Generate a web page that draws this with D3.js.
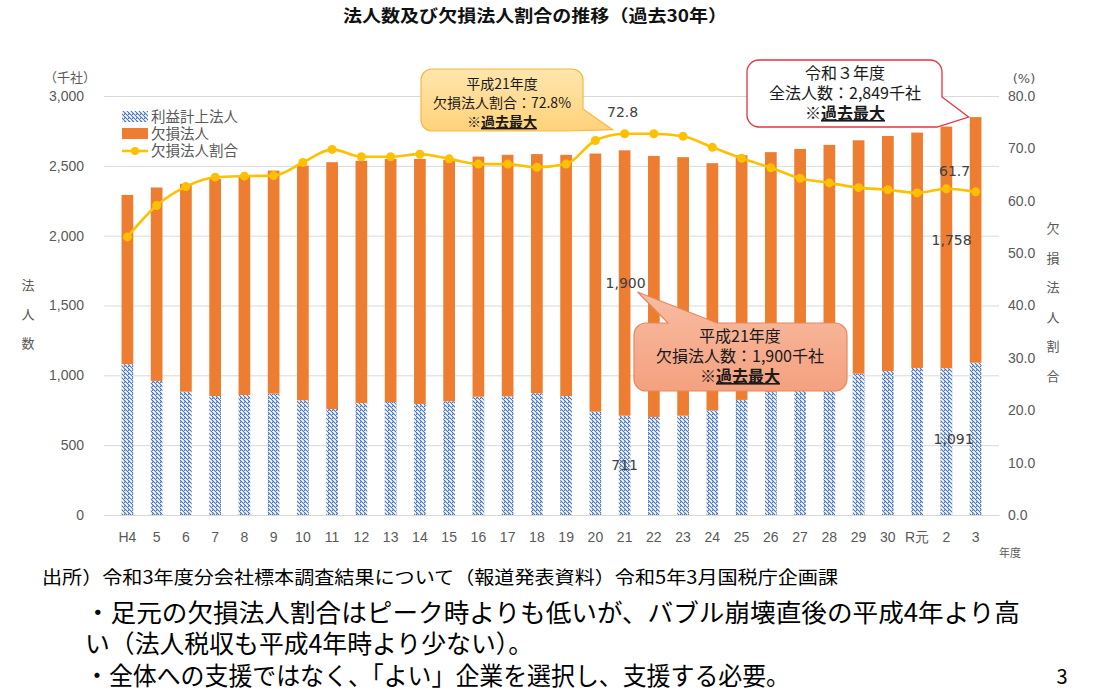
<!DOCTYPE html>
<html>
<head>
<meta charset="utf-8">
<script src="https://cdn.jsdelivr.net/npm/d3@7"></script>
<style>
  body { margin: 0; background: #fff; }
  svg { display: block; font-family: "DejaVu Sans", "Noto Sans CJK JP", sans-serif; }
  .jp { font-family: "Noto Sans CJK JP", sans-serif; }
</style>
</head>
<body>
<svg id="chart" width="1096" height="694"></svg>
<script>
// data (千社, %)
const categories = ['H4','5','6','7','8','9','10','11','12','13','14','15','16','17','18','19','20','21','22','23','24','25','26','27','28','29','30','R元','2','3'];
const profitCorp = [1080, 960, 883, 852, 859, 869, 822, 759, 802, 809, 795, 814, 847, 850, 872, 852, 740, 711, 702, 711, 750, 824, 883, 895, 895, 1012, 1031, 1053, 1051, 1091];
const lossCorp = [1212, 1385, 1488, 1555, 1564, 1597, 1680, 1767, 1734, 1741, 1755, 1729, 1719, 1729, 1712, 1727, 1848, 1900, 1869, 1851, 1769, 1752, 1715, 1726, 1755, 1671, 1683, 1685, 1730, 1758];
const lossRatio = [53.1, 59.1, 62.7, 64.5, 64.7, 64.8, 67.3, 69.8, 68.4, 68.4, 68.9, 68.0, 67.0, 67.0, 66.4, 67.0, 71.5, 72.8, 72.8, 72.3, 70.2, 68.1, 66.3, 64.3, 63.4, 62.5, 62.1, 61.5, 62.3, 61.7];
const leftTicks = [0, 500, 1000, 1500, 2000, 2500, 3000];
const rightTicks = [0, 10, 20, 30, 40, 50, 60, 70, 80];

const svg = d3.select('#chart');
const plotL = 104, plotR = 999, plotT = 96, plotB = 515;

const x = d3.scaleBand().domain(categories).range([plotL, plotR]).padding(0.6);
const y = d3.scaleLinear().domain([0, 3000]).range([plotB, plotT]);
const y2 = d3.scaleLinear().domain([0, 80]).range([plotB, plotT]);
const cx = i => x(categories[i]) + x.bandwidth() / 2;

const defs = svg.append('defs');
defs.append('pattern')
    .attr('id', 'hatch')
    .attr('patternUnits', 'userSpaceOnUse')
    .attr('width', 4).attr('height', 4)
    .call(p => {
        p.append('rect').attr('width', 4).attr('height', 4).attr('fill', '#fff');
        p.append('path').attr('d', 'M-1,1 l2,2 M0,0 l4,4 M3,-1 l2,2')
            .attr('stroke', '#4472C4').attr('stroke-width', 1.1);
    });
const gy = defs.append('linearGradient').attr('id', 'gYellow').attr('x1', 0).attr('y1', 0).attr('x2', 0).attr('y2', 1);
gy.append('stop').attr('offset', '0%').attr('stop-color', '#FFE6AE');
gy.append('stop').attr('offset', '100%').attr('stop-color', '#FFD27A');
const gs = defs.append('linearGradient').attr('id', 'gSalmon').attr('x1', 0).attr('y1', 0).attr('x2', 0).attr('y2', 1);
gs.append('stop').attr('offset', '0%').attr('stop-color', '#F8BCA2');
gs.append('stop').attr('offset', '100%').attr('stop-color', '#F4A17F');

// title
svg.append('text')
    .attr('class', 'jp')
    .attr('x', 535).attr('y', 22)
    .attr('text-anchor', 'middle')
    .attr('font-size', 17).attr('font-weight', 'bold').attr('fill', '#111')
    .attr('textLength', 384).attr('lengthAdjust', 'spacingAndGlyphs')
    .text('法人数及び欠損法人割合の推移（過去30年）');

// gridlines + left axis
const axL = svg.append('g')
    .attr('transform', `translate(${plotL},0)`)
    .call(d3.axisLeft(y).tickValues(leftTicks).tickSize(-(plotR - plotL)).tickPadding(20).tickFormat(d3.format(',')));
axL.select('.domain').remove();
axL.selectAll('line').attr('stroke', '#D9D9D9');
axL.selectAll('text').attr('font-size', 14).attr('fill', '#595959');

const axR = svg.append('g')
    .attr('transform', `translate(${plotR},0)`)
    .call(d3.axisRight(y2).tickValues(rightTicks).tickSize(0).tickPadding(9).tickFormat(d3.format('.1f')));
axR.select('.domain').remove();
axR.selectAll('text').attr('font-size', 14).attr('fill', '#595959');

const axB = svg.append('g')
    .attr('transform', `translate(0,${plotB})`)
    .call(d3.axisBottom(x).tickSize(0).tickPadding(17));
axB.select('.domain').attr('stroke', '#D9D9D9');
axB.selectAll('text').attr('font-size', 14).attr('fill', '#595959');

// bars
svg.append('g').selectAll('rect')
    .data(profitCorp)
    .join('rect')
    .attr('x', (d, i) => x(categories[i]))
    .attr('width', x.bandwidth())
    .attr('y', d => y(d))
    .attr('height', d => plotB - y(d))
    .attr('fill', 'url(#hatch)');

svg.append('g').selectAll('rect')
    .data(lossCorp)
    .join('rect')
    .attr('x', (d, i) => x(categories[i]))
    .attr('width', x.bandwidth())
    .attr('y', (d, i) => y(d + profitCorp[i]))
    .attr('height', (d, i) => y(profitCorp[i]) - y(d + profitCorp[i]))
    .attr('fill', '#ED7D31');

// ratio line
const line = d3.line().x((d, i) => cx(i)).y(d => y2(d)).curve(d3.curveMonotoneX);
svg.append('path')
    .attr('d', line(lossRatio))
    .attr('fill', 'none').attr('stroke', '#FFC000').attr('stroke-width', 2.6);
svg.append('g').selectAll('circle')
    .data(lossRatio)
    .join('circle')
    .attr('cx', (d, i) => cx(i)).attr('cy', d => y2(d))
    .attr('r', 4.5).attr('fill', '#FFC000');

// data labels
const last = categories.length - 1, peak = 17;
const labels = [
    [cx(peak) - 2, y2(lossRatio[peak]) - 17, lossRatio[peak].toFixed(1)],
    [cx(last) - 21, y2(lossRatio[last]) - 16, lossRatio[last].toFixed(1)],
    [cx(last) - 24, y(profitCorp[last] + lossCorp[last] / 2) + 5, d3.format(',')(lossCorp[last])],
    [cx(last) - 22, y(profitCorp[last] / 2) + 5, d3.format(',')(profitCorp[last])],
    [cx(peak) + 1, y(profitCorp[peak] + lossCorp[peak] / 2) + 5, d3.format(',')(lossCorp[peak])],
    [cx(peak), y(profitCorp[peak] / 2) + 5, d3.format(',')(profitCorp[peak])]
];
svg.append('g').selectAll('text')
    .data(labels)
    .join('text')
    .attr('x', d => d[0]).attr('y', d => d[1])
    .attr('text-anchor', 'middle')
    .attr('font-size', 14).attr('fill', '#404040')
    .text(d => d[2]);

// axis titles
svg.append('text').attr('class', 'jp').attr('x', 70).attr('y', 82).attr('text-anchor', 'middle')
    .attr('font-size', 13).attr('fill', '#595959').text('（千社）');
svg.append('text').attr('x', 1024).attr('y', 83).attr('text-anchor', 'middle')
    .attr('font-size', 13).attr('fill', '#595959').text('(%)');
svg.append('g').selectAll('text')
    .data(['法', '人', '数'])
    .join('text').attr('class', 'jp')
    .attr('x', 28).attr('y', (d, i) => 290 + i * 29)
    .attr('text-anchor', 'middle').attr('font-size', 13).attr('fill', '#595959')
    .text(d => d);
svg.append('g').selectAll('text')
    .data(['欠', '損', '法', '人', '割', '合'])
    .join('text').attr('class', 'jp')
    .attr('x', 1053).attr('y', (d, i) => 233 + i * 29.5)
    .attr('text-anchor', 'middle').attr('font-size', 13).attr('fill', '#595959')
    .text(d => d);
svg.append('text').attr('class', 'jp').attr('x', 1010).attr('y', 557).attr('text-anchor', 'middle')
    .attr('font-size', 11).attr('fill', '#595959').text('年度');

// legend
const lg = svg.append('g').attr('class', 'jp');
lg.append('rect').attr('x', 122).attr('y', 111).attr('width', 26).attr('height', 11).attr('fill', 'url(#hatch)');
lg.append('rect').attr('x', 122).attr('y', 128).attr('width', 26).attr('height', 11).attr('fill', '#ED7D31');
lg.append('line').attr('x1', 122).attr('x2', 148).attr('y1', 151).attr('y2', 151).attr('stroke', '#FFC000').attr('stroke-width', 2.6);
lg.append('circle').attr('cx', 135).attr('cy', 151).attr('r', 4).attr('fill', '#FFC000');
lg.selectAll('text')
    .data(['利益計上法人', '欠損法人', '欠損法人割合'])
    .join('text')
    .attr('x', 151).attr('y', (d, i) => 122 + i * 17)
    .attr('font-size', 14.5).attr('fill', '#595959')
    .text(d => d);

// callouts
function bubble(bx, by, w, h, r, tail) {
    const p = d3.path();
    p.moveTo(bx + r, by);
    if (tail.side === 'top') {
        p.lineTo(tail.a, by);
        p.lineTo(tail.tip[0], tail.tip[1]);
        p.lineTo(tail.b, by);
    }
    p.lineTo(bx + w - r, by);
    p.arcTo(bx + w, by, bx + w, by + r, r);
    if (tail.side === 'br') {
        p.lineTo(bx + w, tail.a);
        p.lineTo(tail.tip[0], tail.tip[1]);
        p.lineTo(tail.b, by + h);
    } else {
        p.lineTo(bx + w, by + h - r);
        p.arcTo(bx + w, by + h, bx + w - r, by + h, r);
    }
    p.lineTo(bx + r, by + h);
    p.arcTo(bx, by + h, bx, by + h - r, r);
    p.lineTo(bx, by + r);
    p.arcTo(bx, by, bx + r, by, r);
    p.closePath();
    return p.toString();
}

function calloutText(g, cxm, ys, lines, size) {
    const t = g.append('g').attr('class', 'jp').attr('text-anchor', 'middle')
        .attr('font-size', size).attr('fill', '#1a1a1a');
    t.append('text').attr('x', cxm).attr('y', ys[0]).text(lines[0]);
    t.append('text').attr('x', cxm).attr('y', ys[1]).text(lines[1]);
    const t3 = t.append('text').attr('x', cxm).attr('y', ys[2]);
    t3.append('tspan').text('※');
    t3.append('tspan').attr('font-weight', 'bold').attr('text-decoration', 'underline').text('過去最大');
}

const c1 = svg.append('g');
c1.append('path')
    .attr('d', bubble(421, 69, 162, 62, 11, { side: 'br', a: 109, b: 566, tip: [cx(peak) - 12, y2(lossRatio[peak]) - 4] }))
    .attr('fill', 'url(#gYellow)').attr('stroke', '#F5B940').attr('stroke-width', 1.2);
calloutText(c1, 502, [89, 108, 127], ['平成21年度', '欠損法人割合：72.8%'], 14);

const c2 = svg.append('g');
c2.append('path')
    .attr('d', bubble(747, 60, 195, 67, 12, { side: 'br', a: 97, b: 937, tip: [cx(last) - 7, y(profitCorp[last] + lossCorp[last])] }))
    .attr('fill', '#fff').attr('stroke', '#E3343F').attr('stroke-width', 1.3);
calloutText(c2, 845, [79, 99, 119], ['令和３年度', '全法人数：2,849千社'], 16);

const c3 = svg.append('g');
c3.append('path')
    .attr('d', bubble(634, 323, 213, 68, 12, { side: 'top', a: 668, b: 717, tip: [cx(peak) + 13, y(profitCorp[peak] + lossCorp[peak] / 2) + 9] }))
    .attr('fill', 'url(#gSalmon)').attr('stroke', '#E8875D').attr('stroke-width', 1.2);
calloutText(c3, 740, [342, 362, 382], ['平成21年度', '欠損法人数：1,900千社'], 16);

// source and notes
const notes = svg.append('g').attr('class', 'jp').attr('fill', '#000');
notes.append('text').attr('x', 42).attr('y', 584).attr('font-size', 18)
    .attr('textLength', 796).attr('lengthAdjust', 'spacingAndGlyphs')
    .text('出所）令和3年度分会社標本調査結果について（報道発表資料）令和5年3月国税庁企画課');
notes.append('text').attr('x', 85).attr('y', 622).attr('font-size', 25)
    .attr('textLength', 935).attr('lengthAdjust', 'spacingAndGlyphs')
    .text('・足元の欠損法人割合はピーク時よりも低いが、バブル崩壊直後の平成4年より高');
notes.append('text').attr('x', 85).attr('y', 653).attr('font-size', 25)
    .attr('textLength', 448).attr('lengthAdjust', 'spacingAndGlyphs')
    .text('い（法人税収も平成4年時より少ない）。');
notes.append('text').attr('x', 85).attr('y', 685).attr('font-size', 25)
    .attr('textLength', 705).attr('lengthAdjust', 'spacingAndGlyphs')
    .text('・全体への支援ではなく、「よい」企業を選択し、支援する必要。');
notes.append('text').attr('x', 1062).attr('y', 684).attr('font-size', 20).attr('text-anchor', 'middle')
    .text('3');
</script>
</body>
</html>
